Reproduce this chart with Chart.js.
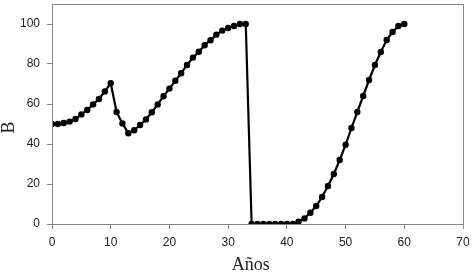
<!DOCTYPE html>
<html>
<head>
<meta charset="utf-8">
<script src="https://cdn.jsdelivr.net/npm/chart.js@4/dist/chart.umd.min.js"></script>
<style>
  body { margin: 0; background: #fff; }
  canvas { display: block; }
</style>
</head>
<body>
<canvas id="myChart" width="472" height="274"></canvas>
<script>
// Data
const years = [0, 1, 2, 3, 4, 5, 6, 7, 8, 9, 10, 11, 12, 13, 14, 15, 16, 17, 18, 19, 20,
    21, 22, 23, 24, 25, 26, 27, 28, 29, 30, 31, 32, 33, 34, 35, 36, 37, 38, 39, 40,
    41, 42, 43, 44, 45, 46, 47, 48, 49, 50, 51, 52, 53, 54, 55, 56, 57, 58, 59, 60];
const valuesB = [50, 50, 50.5, 51.2, 52.5, 54.8, 57, 59.8, 62.5, 66.3, 70.4,
    56, 50.3, 45.4, 46.9, 49.5, 52.3, 55.9, 59.8, 63.9, 67.7,
    71.6, 75.4, 79.5, 83.2, 86.1, 89.4, 91.9, 94.7, 96.7, 98,
    99, 100, 100, 0, 0, 0, 0, 0, 0, 0,
    0, 1.2, 2.8, 5.6, 9, 13.5, 19, 25, 32, 39.6,
    48, 56, 64, 72, 79.5, 86, 92, 96, 99, 100];
const xTicks = [0, 10, 20, 30, 40, 50, 60, 70];
const yTicks = [0, 20, 40, 60, 80, 100];

const axisGray = '#868686';
const tickFont = { family: 'Liberation Sans', size: 12 };
const titleFont = { family: 'Liberation Serif', size: 18, lineHeight: 1 };
const nb = '\u00a0';

// frame round the plot area (top and right sides)
const frame = {
    id: 'frame',
    afterDraw(chart) {
        const { ctx, chartArea: a } = chart;
        ctx.save();
        ctx.strokeStyle = axisGray;
        ctx.lineWidth = 1;
        ctx.strokeRect(a.left + 0.5, a.top + 0.5, a.right - a.left, a.bottom - a.top);
        ctx.restore();
    }
};

const ctx = document.getElementById('myChart').getContext('2d');
new Chart(ctx, {
    type: 'line',
    data: {
        datasets: [{
            data: years.map((y, i) => ({ x: y, y: valuesB[i] })),
            borderColor: '#000',
            backgroundColor: '#000',
            borderWidth: 2.2,
            pointRadius: 3.2,
            pointBackgroundColor: '#000',
            pointBorderWidth: 0,
            tension: 0
        }]
    },
    options: {
        responsive: false,
        animation: false,
        layout: { padding: { top: 2, right: 0, left: 0, bottom: 0 } },
        plugins: {
            legend: { display: false },
            tooltip: { enabled: false }
        },
        scales: {
            x: {
                type: 'linear',
                min: 0,
                max: 70,
                afterBuildTicks: (axis) => { axis.ticks = xTicks.map(v => ({ value: v })); },
                afterFit: (axis) => { axis.height = 50; axis.paddingLeft = 0; axis.paddingRight = 9; },
                grid: { drawOnChartArea: false, color: axisGray, tickLength: 5 },
                border: { color: axisGray },
                ticks: { color: '#222', font: tickFont, padding: 6, maxRotation: 0 },
                title: { display: true, text: 'Años' + nb.repeat(3), color: '#222', font: titleFont, padding: { top: 4, bottom: 0 } }
            },
            y: {
                min: 0,
                max: 110,
                afterBuildTicks: (axis) => { axis.ticks = yTicks.map(v => ({ value: v })); },
                afterFit: (axis) => { axis.width = 52; axis.paddingTop = 0; axis.paddingBottom = 0; },
                grid: { drawOnChartArea: false, color: axisGray, tickLength: 5 },
                border: { color: axisGray },
                ticks: { color: '#222', font: tickFont, padding: 7 },
                title: { display: true, text: 'B' + nb.repeat(6), color: '#222', font: titleFont, padding: { top: 0, bottom: 2 } }
            }
        }
    },
    plugins: [frame]
});
</script>
</body>
</html>
